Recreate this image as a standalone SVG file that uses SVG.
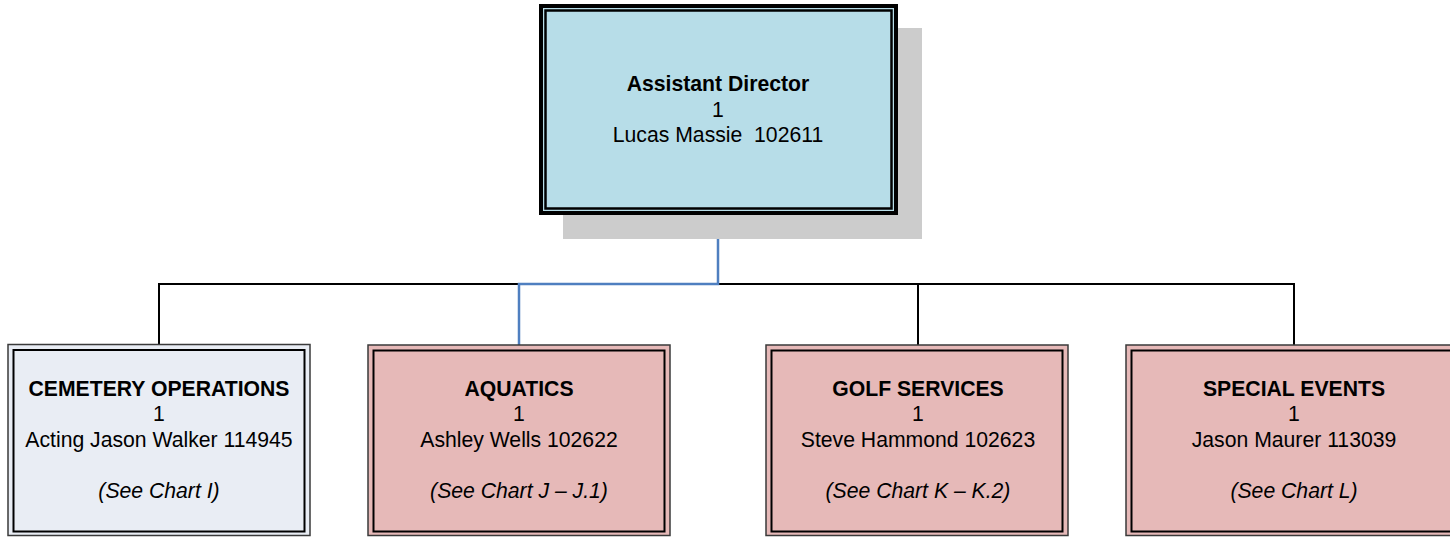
<svg xmlns="http://www.w3.org/2000/svg" width="1450" height="537" viewBox="0 0 1450 537">
<style>
text{font-family:"Liberation Sans",Arial,sans-serif;font-size:21.2px;fill:#000;text-anchor:middle}
.b{font-weight:bold}
.i{font-style:italic}
.outer{stroke:#3a3a3a;stroke-width:1.5}
.inner{fill:none;stroke:#000;stroke-width:2}
.blk{fill:none;stroke:#000;stroke-width:2}
.blu{fill:none;stroke:#4f7fc0;stroke-width:2.5}
</style>
<rect width="1450" height="537" fill="#fff"/>
<g id="connectors">
<path class="blk" d="M159,345 V284 H519"/>
<path class="blk" d="M718,284 H1294 V345"/>
<path class="blk" d="M918,284 V345"/>
<path class="blu" d="M718,215 V284 H519 V345"/>
</g>
<g id="assistant-director">
<rect x="563" y="28" width="359" height="211" fill="#cccccc"/>
<rect x="541" y="6" width="355" height="207" fill="#b7dde8" stroke="#000" stroke-width="4"/>
<rect x="545.5" y="10.5" width="346" height="198" fill="none" stroke="#000" stroke-width="2.5"/>
<text x="718" y="91" class="b">Assistant Director</text>
<text x="718" y="116.5">1</text>
<text x="718" y="142" xml:space="preserve">Lucas Massie  102611</text>
</g>
<g id="cemetery-operations">
<rect class="outer" x="8" y="344.5" width="302" height="191" fill="#e9edf4"/>
<rect class="inner" x="13.5" y="350" width="291" height="181.5"/>
<text x="159" y="395.5" class="b">CEMETERY OPERATIONS</text>
<text x="159" y="421">1</text>
<text x="159" y="446.5">Acting Jason Walker 114945</text>
<text x="159" y="498" class="i">(See Chart I)</text>
</g>
<g id="aquatics">
<rect class="outer" x="368" y="345" width="302" height="190.5" fill="#e6b9b8"/>
<rect class="inner" x="373.5" y="350.5" width="291" height="181"/>
<text x="519" y="395.5" class="b">AQUATICS</text>
<text x="519" y="421">1</text>
<text x="519" y="446.5">Ashley Wells 102622</text>
<text x="519" y="498" class="i">(See Chart J – J.1)</text>
</g>
<g id="golf-services">
<rect class="outer" x="766" y="345" width="302" height="190.5" fill="#e6b9b8"/>
<rect class="inner" x="771.5" y="350.5" width="291" height="181"/>
<text x="918" y="395.5" class="b">GOLF SERVICES</text>
<text x="918" y="421">1</text>
<text x="918" y="446.5">Steve Hammond 102623</text>
<text x="918" y="498" class="i">(See Chart K – K.2)</text>
</g>
<g id="special-events">
<rect class="outer" x="1126" y="345" width="340" height="190.5" fill="#e6b9b8"/>
<rect class="inner" x="1131.5" y="350.5" width="330" height="181"/>
<text x="1294" y="395.5" class="b">SPECIAL EVENTS</text>
<text x="1294" y="421">1</text>
<text x="1294" y="446.5">Jason Maurer 113039</text>
<text x="1294" y="498" class="i">(See Chart L)</text>
</g>
</svg>
